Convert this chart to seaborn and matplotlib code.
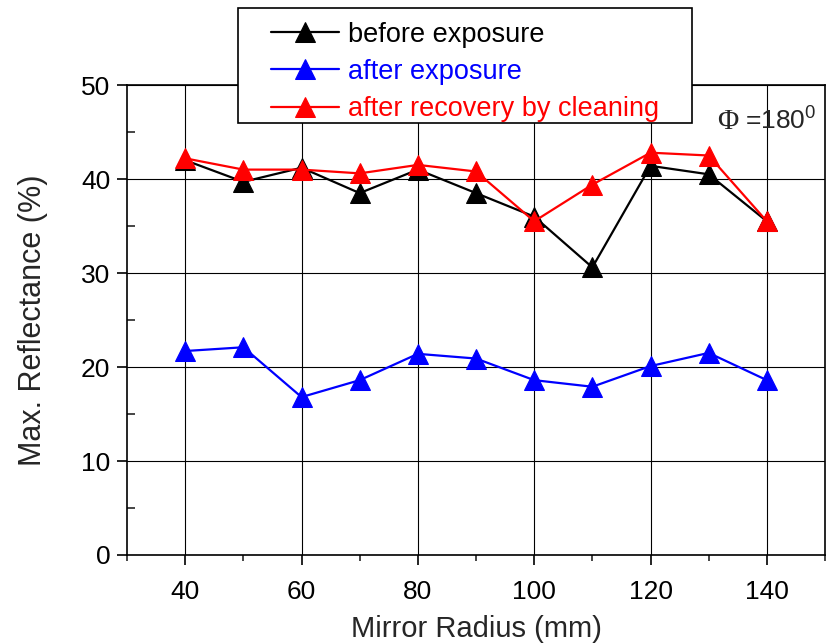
import pandas as pd
import numpy as np
import matplotlib.pyplot as plt
import seaborn as sns
from matplotlib.patches import Rectangle

# Mirror radius positions (mm)
radius = [40, 50, 60, 70, 80, 90, 100, 110, 120, 130, 140]

# Max. reflectance (%)
before_exposure = [42.0, 39.7, 41.2, 38.5, 41.0, 38.5, 36.0, 30.6, 41.4, 40.5, 35.5]
after_exposure = [21.7, 22.1, 16.8, 18.6, 21.4, 20.9, 18.6, 17.9, 20.1, 21.5, 18.6]
after_recovery = [42.2, 41.0, 41.0, 40.6, 41.5, 40.8, 35.5, 39.4, 42.8, 42.5, 35.5]

labels = ['before exposure', 'after exposure', 'after recovery by cleaning']
colors = ['black', 'blue', 'red']

df = pd.DataFrame({
    'Radius': radius * 3,
    'Reflectance': before_exposure + after_exposure + after_recovery,
    'Series': [labels[0]] * 11 + [labels[1]] * 11 + [labels[2]] * 11,
})

sns.set_style('white')
plt.rcParams['font.family'] = ['Liberation Sans', 'DejaVu Sans']
plt.rcParams['mathtext.fontset'] = 'custom'
plt.rcParams['mathtext.rm'] = 'Liberation Sans'

fig = plt.figure(figsize=(8.27, 6.44), dpi=100)
ax = fig.add_axes([0.1536, 0.1382, 0.8440, 0.7298])

for lab, col in zip(labels, colors):
    sns.lineplot(data=df[df['Series'] == lab], x='Radius', y='Reflectance',
                 color=col, marker='^', markersize=14, markeredgecolor=col,
                 linewidth=1.6, label=lab, ax=ax, zorder=3)

ax.set_xlim(30, 150)
ax.set_ylim(0, 50)
ax.set_xticks([40, 60, 80, 100, 120, 140])
ax.set_xticks([30, 50, 70, 90, 110, 130, 150], minor=True)
ax.set_yticks([0, 10, 20, 30, 40, 50])
ax.set_yticks([5, 15, 25, 35, 45], minor=True)
ax.grid(True, which='major', color='black', linewidth=0.8)
ax.set_axisbelow(True)

for s in ax.spines.values():
    s.set_color('black')
    s.set_linewidth(1.2)

ax.tick_params(axis='both', which='major', direction='out', length=7, width=1.2,
               labelsize=19, colors='black', bottom=True, left=True)
ax.tick_params(axis='x', which='major', pad=11)
ax.tick_params(axis='y', which='major', pad=5)
ax.tick_params(axis='x', which='minor', direction='out', length=4, width=1.2, bottom=True)
ax.tick_params(axis='y', which='minor', direction='in', length=6, width=1.2, left=True)

ax.set_xlabel('Mirror Radius (mm)', fontsize=21, labelpad=8)
ax.set_ylabel('Max. Reflectance (%)', fontsize=22, labelpad=24)

# legend frame drawn separately so the entries can sit inset like the original
frame = Rectangle((0.159, 0.919), 0.65, 0.245, transform=ax.transAxes,
                  facecolor='white', edgecolor='black', linewidth=1.2,
                  clip_on=False, zorder=4)
ax.add_patch(frame)

leg = ax.legend(loc='upper left', bbox_to_anchor=(0.206, 1.135),
                borderaxespad=0, borderpad=0, fontsize=19.5, frameon=False,
                handlelength=2.5, handletextpad=0.35, labelspacing=0.42,
                labelcolor='linecolor')
leg.set_zorder(5)

ax.text(0.845, 0.907, 'Φ', transform=ax.transAxes, fontsize=21,
        family='Liberation Serif', ha='left', va='baseline')
ax.text(0.886, 0.907, '=180$^{0}$', transform=ax.transAxes, fontsize=19,
        ha='left', va='baseline')

fig.savefig('out.png', dpi=100)
